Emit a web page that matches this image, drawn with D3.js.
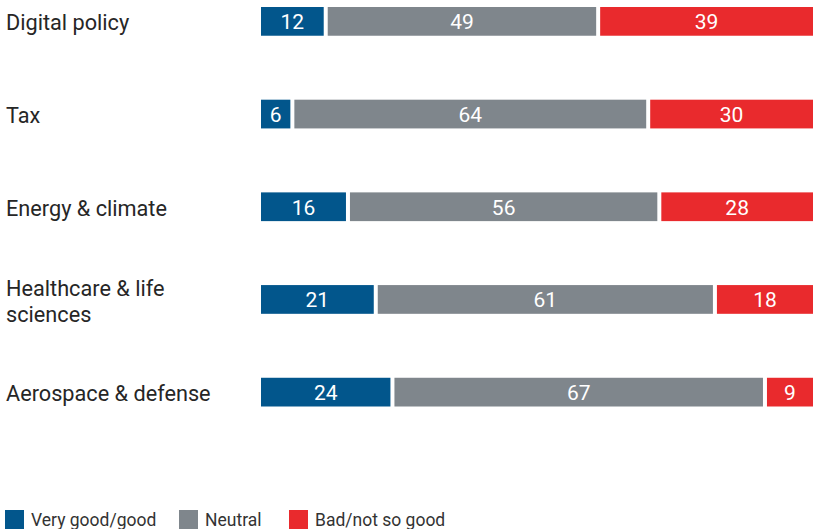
<!DOCTYPE html>
<html>
<head>
<meta charset="utf-8">
<script src="https://cdn.jsdelivr.net/npm/d3@7"></script>
<style>
body { margin: 0; background: #fff; }
text { font-family: Roboto, "Noto Sans", sans-serif; }
</style>
</head>
<body>
<div id="chart"></div>
<script>
// categories and shares (percent)
var categories = ["Digital policy", "Tax", "Energy & climate", "Healthcare & life sciences", "Aerospace & defense"];
var label_lines = [["Digital policy"], ["Tax"], ["Energy & climate"], ["Healthcare & life", "sciences"], ["Aerospace & defense"]];
var series_names = ["Very good/good", "Neutral", "Bad/not so good"];
var good = [12, 6, 16, 21, 24];
var neutral = [49, 64, 56, 61, 67];
var bad = [39, 30, 28, 18, 9];
var colors = ["#02568c", "#7f868c", "#e92a2d"];

var width = 816, height = 529;
var svg = d3.select("#chart").append("svg")
    .attr("width", width)
    .attr("height", height);

var x = d3.scaleLinear([0, 100], [259, 815]);
var y = d3.scaleBand(categories, [7, 406.5]).paddingInner(0.69).paddingOuter(0);

var rows = categories.map((c, i) => {
    var vals = [good[i], neutral[i], bad[i]];
    var acc = 0;
    return vals.map((v, k) => {
	var seg = {cat: c, k: k, v: v, x0: acc, x1: acc + v};
	acc += v;
	return seg;
    });
}).flat();

var gap = 2;
svg.append("g").selectAll("rect")
    .data(rows)
    .join("rect")
    .attr("x", d => x(d.x0) + gap)
    .attr("y", d => y(d.cat))
    .attr("width", d => x(d.x1) - x(d.x0) - 2 * gap)
    .attr("height", y.bandwidth())
    .style("fill", d => colors[d.k]);

svg.append("g").selectAll("text")
    .data(rows)
    .join("text")
    .attr("x", d => (x(d.x0) + x(d.x1)) / 2)
    .attr("y", d => y(d.cat) + y.bandwidth() / 2)
    .attr("dy", "0.38em")
    .attr("text-anchor", "middle")
    .style("font-size", "21px")
    .style("fill", "#fff")
    .text(d => d.v);

// category labels
var lab = svg.append("g").selectAll("text")
    .data(categories)
    .join("text")
    .attr("x", 6)
    .attr("y", d => y(d) + y.bandwidth() / 2)
    .style("font-size", "21.7px")
    .style("fill", "#262626");
lab.each(function(d, i) {
    var lines = label_lines[i];
    var t = d3.select(this);
    lines.forEach((l, j) => {
	t.append("tspan")
	    .attr("x", 6)
	    .attr("dy", j == 0 ? (0.42 - (lines.length - 1) * 0.6) + "em" : "1.2em")
	    .text(l);
    });
});

// legend
var legend_x = [5, 179, 289];
var lg = svg.append("g").selectAll("g")
    .data(series_names)
    .join("g")
    .attr("transform", (d, i) => "translate(" + legend_x[i] + ",510)");
lg.append("rect")
    .attr("width", 19)
    .attr("height", 19)
    .style("fill", (d, i) => colors[i]);
lg.append("text")
    .attr("x", 26)
    .attr("y", 16)
    .style("font-size", "17.5px")
    .style("fill", "#333")
    .text(d => d);
</script>
</body>
</html>
